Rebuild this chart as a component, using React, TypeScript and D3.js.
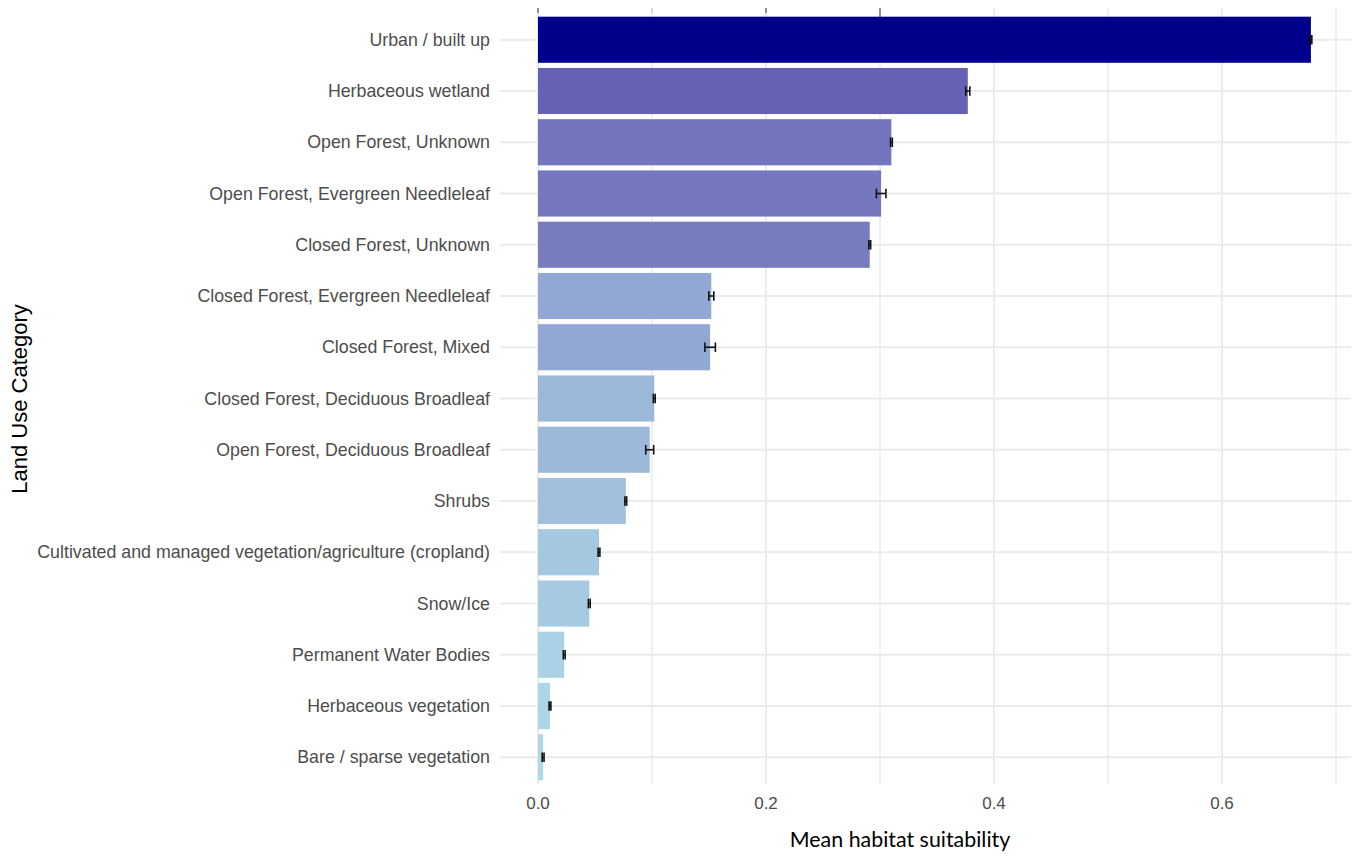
import React from "react";
import * as d3 from "d3";

const categories = [
  "Urban / built up",
  "Herbaceous wetland",
  "Open Forest, Unknown",
  "Open Forest, Evergreen Needleleaf",
  "Closed Forest, Unknown",
  "Closed Forest, Evergreen Needleleaf",
  "Closed Forest, Mixed",
  "Closed Forest, Deciduous Broadleaf",
  "Open Forest, Deciduous Broadleaf",
  "Shrubs",
  "Cultivated and managed vegetation/agriculture (cropland)",
  "Snow/Ice",
  "Permanent Water Bodies",
  "Herbaceous vegetation",
  "Bare / sparse vegetation",
];
const meanValues = [0.678, 0.377, 0.31, 0.301, 0.291, 0.152, 0.151, 0.102, 0.098, 0.077, 0.0535, 0.045, 0.023, 0.0105, 0.0045];
const errValues = [0.0008, 0.0018, 0.0008, 0.0042, 0.0008, 0.0022, 0.0046, 0.0008, 0.0035, 0.0008, 0.0008, 0.0008, 0.0008, 0.0008, 0.0008];
const majorTicks = [0, 0.2, 0.4, 0.6];
const minorTicks = [0.1, 0.3, 0.5, 0.7];
const topMarks = [0, 0.1, 0.2, 0.3];

const W = 1356;
const H = 857;
const panelLeft = 500;
const panelRight = 1351;
const panelTop = 9;
const panelBottom = 788;

export default function App() {
  const maxV = d3.max(meanValues) as number;
  const sx = d3.scaleLinear().domain([0, 0.6]).range([538, 1222]);
  const y = d3
    .scalePoint<string>()
    .domain(categories)
    .range([panelTop, panelBottom])
    .padding(0.6);
  const step = y.step();
  const bh = step * 0.9;
  const color = d3
    .scaleLinear<string>()
    .domain([d3.min(meanValues) as number, maxV])
    .range(["#ADD8E6", "#00008B"])
    .interpolate(d3.interpolateLab);

  return (
    <svg
      width={W}
      height={H}
      style={{ position: "absolute", left: 0, top: 0, background: "#fff" }}
    >
      {categories.map((c) => (
        <line
          key={"h" + c}
          x1={panelLeft}
          x2={panelRight}
          y1={y(c)}
          y2={y(c)}
          stroke="#EBEBEB"
          strokeWidth={2}
        />
      ))}
      {minorTicks.map((t) => (
        <line key={"mi" + t} x1={sx(t)} x2={sx(t)} y1={8} y2={784} stroke="#EBEBEB" strokeWidth={1.5} />
      ))}
      {majorTicks.map((t) => (
        <line key={"ma" + t} x1={sx(t)} x2={sx(t)} y1={8} y2={784} stroke="#EBEBEB" strokeWidth={2} />
      ))}
      {topMarks.map((t, i) => (
        <line
          key={"tm" + t}
          x1={sx(t)}
          x2={sx(t)}
          y1={8}
          y2={i === 3 ? 17 : 13}
          stroke={i === 1 ? "#C8C8C8" : "#555"}
          strokeWidth={1.2}
        />
      ))}
      {categories.map((c, i) => (
        <rect
          key={"b" + c}
          x={sx(0)}
          y={(y(c) as number) - bh / 2}
          width={sx(meanValues[i]) - sx(0)}
          height={bh}
          fill={color(meanValues[i])}
        />
      ))}
      {categories.map((c, i) => {
        const cy = y(c) as number;
        const l = sx(meanValues[i] - errValues[i]);
        const r = sx(meanValues[i] + errValues[i]);
        return (
          <g key={"e" + c} stroke="#111" strokeWidth={1.6}>
            <line x1={l} x2={r} y1={cy} y2={cy} />
            <line x1={l} x2={l} y1={cy - 4.8} y2={cy + 4.8} />
            <line x1={r} x2={r} y1={cy - 4.8} y2={cy + 4.8} />
          </g>
        );
      })}
      {categories.map((c) => (
        <text
          key={"t" + c}
          x={490}
          y={y(c)}
          dy="0.35em"
          textAnchor="end"
          fontFamily="'Liberation Sans', Arial, sans-serif"
          fontSize={17.8}
          fill="#4D4D4D"
        >
          {c}
        </text>
      ))}
      {majorTicks.map((t) => (
        <text
          key={"xl" + t}
          x={sx(t)}
          y={809}
          textAnchor="middle"
          fontFamily="'Liberation Sans', Arial, sans-serif"
          fontSize={17}
          fill="#4D4D4D"
        >
          {d3.format(".1f")(t)}
        </text>
      ))}
      <text
        x={900}
        y={847}
        textAnchor="middle"
        fontFamily="Lato, 'Open Sans', sans-serif"
        fontSize={21.4}
        fill="#000"
      >
        Mean habitat suitability
      </text>
      <text
        transform="translate(27,399) rotate(-90)"
        textAnchor="middle"
        fontFamily="'Liberation Sans', Arial, sans-serif"
        fontSize={22}
        fill="#000"
      >
        Land Use Category
      </text>
    </svg>
  );
}
